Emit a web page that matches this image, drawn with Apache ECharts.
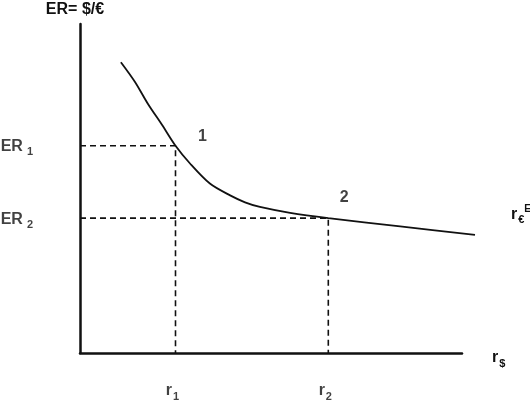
<!DOCTYPE html>
<html>
<head>
  <meta charset="utf-8">
  <title>ER curve</title>
  <script src="https://cdn.jsdelivr.net/npm/echarts@6/dist/echarts.min.js"></script>
  <style>
    html, body { margin: 0; padding: 0; background: #fff; }
    #chart { width: 530px; height: 400px; }
  </style>
</head>
<body>
  <div id="chart"></div>
  <script>
    // curve (x = r$, y = ER)
    const curveX = [1.07, 1.44, 1.78, 2.15, 2.5, 2.88, 3.40, 3.93, 4.32, 4.71, 5.50, 6.5, 8.38, 10.34];
    const curveY = [8.84, 8.24, 7.57, 6.93, 6.3, 5.76, 5.15, 4.79, 4.58, 4.44, 4.26, 4.1, 3.85, 3.59];

    // equilibrium points
    const rates = [2.5, 6.5];
    const ers = [6.3, 4.1];
    const pointNames = ['1', '2'];

    const font = '"Liberation Sans", Arial, sans-serif';
    const ink = '#111';

    const rich = {
      b: { fontSize: 16, fontFamily: font, fontWeight: 'bold', color: ink, lineHeight: 22 },
      sub: { fontSize: 11, fontFamily: font, fontWeight: 'bold', color: ink, lineHeight: 22, verticalAlign: 'bottom', padding: [0, 0, 0, 1] },
      sup: { fontSize: 10, fontFamily: font, fontWeight: 'bold', color: ink, lineHeight: 22, verticalAlign: 'top' },
      gap: { width: 3 }
    };

    const curve = curveX.map((x, i) => [x, curveY[i]]);

    // dashed guides: from y axis to the point, then down to x axis
    const guides = rates.map((r, i) => ({
      type: 'line',
      data: [[0, ers[i]], [r, ers[i]], [r, 0]],
      symbol: 'none',
      silent: true,
      lineStyle: { color: ink, width: 1.6, type: [6, 4] },
      z: 1
    }));

    // text labels tied to data positions
    const labelPts = [];
    rates.forEach((r, i) => {
      labelPts.push({ value: [0, ers[i]], label: { formatter: '{b|ER}{gap|}{sub|' + (i + 1) + '}', position: 'left', distance: 47, offset: [0, 1] } });
      labelPts.push({ value: [r, 0], label: { formatter: '{b|r}{sub|' + (i + 1) + '}', offset: [-3, 38] } });
      labelPts.push({ value: [r, ers[i]], label: { formatter: '{b|' + pointNames[i] + '}', offset: i === 0 ? [27, -9] : [16, -21] } });
    });

    const hiddenAxis = {
      show: false, type: 'value', min: 0
    };

    const chart = echarts.init(document.getElementById('chart'));
    chart.setOption({
      animation: false,
      backgroundColor: '#fff',
      grid: [
        { left: 80, right: 68, top: 24, bottom: 47 },
        // same scale, a bit wider, so the curve can run past the x axis end
        { left: 80, right: 55, top: 24, bottom: 47 }
      ],
      xAxis: [{
        type: 'value', min: 0, max: 10,
        name: '{b|r}{sub|$}',
        nameLocation: 'end',
        nameGap: 30,
        nameTextStyle: { rich: rich, padding: [10, 0, 0, 0] },
        axisLine: { show: true, lineStyle: { color: ink, width: 2.5 } },
        axisTick: { show: false }, axisLabel: { show: false }, splitLine: { show: false }
      }, Object.assign({ gridIndex: 1, max: 10.34 }, hiddenAxis)],
      yAxis: [{
        type: 'value', min: 0, max: 10,
        name: 'ER= $/€',
        nameLocation: 'end',
        nameGap: 6,
        nameTextStyle: { fontSize: 16, fontFamily: font, fontWeight: 'bold', color: ink, padding: [0, 10, 0, 0] },
        axisLine: { show: true, lineStyle: { color: ink, width: 2.5 } },
        axisTick: { show: false }, axisLabel: { show: false }, splitLine: { show: false }
      }, Object.assign({ gridIndex: 1, max: 10 }, hiddenAxis)],
      series: [
        {
          type: 'line',
          xAxisIndex: 1, yAxisIndex: 1,
          data: curve,
          smooth: 0.3,
          symbol: 'none',
          lineStyle: { color: ink, width: 1.8 },
          z: 3,
          endLabel: {
            show: true,
            formatter: '{b|r}{sub|€}{sup|E}',
            rich: rich,
            offset: [28, -20]
          }
        }
      ].concat(guides).concat([
        {
          type: 'scatter',
          data: labelPts,
          symbolSize: 0,
          silent: true,
          label: { show: true, position: 'inside', rich: rich }
        }
      ])
    });
  </script>
</body>
</html>
